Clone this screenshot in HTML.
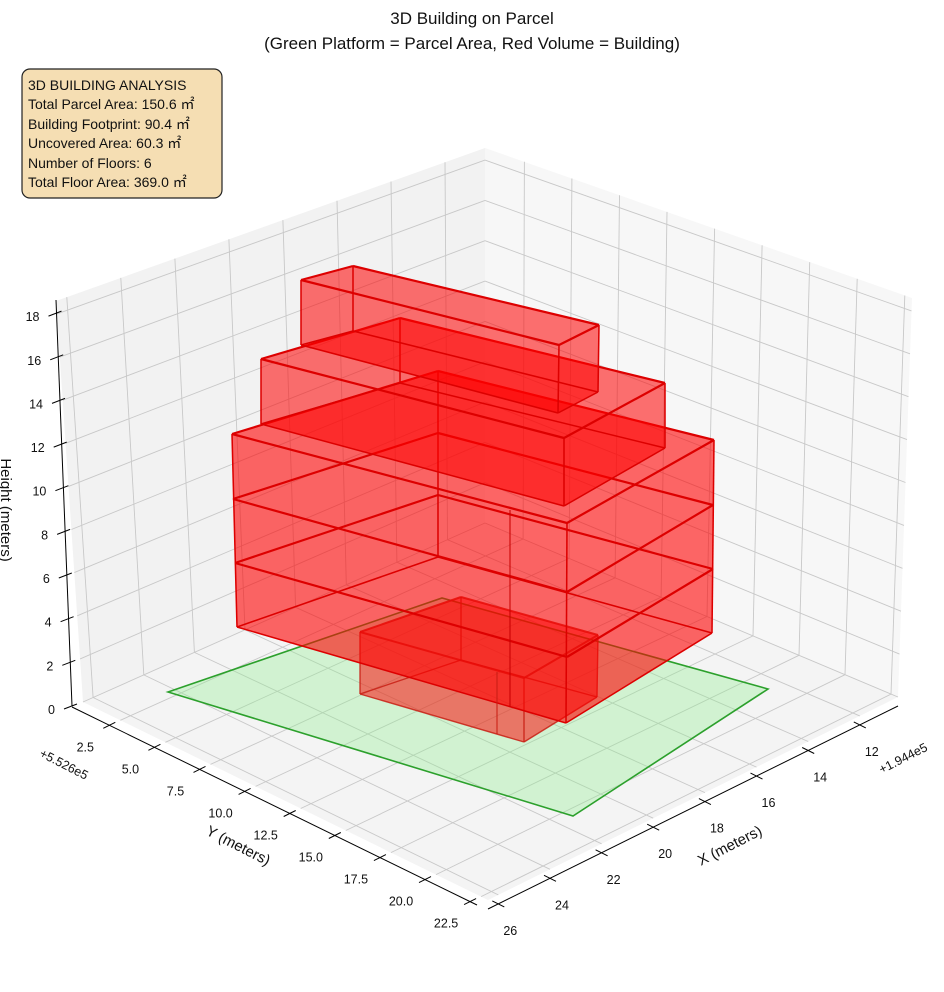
<!DOCTYPE html>
<html><head><meta charset="utf-8"><style>
html,body{margin:0;padding:0;background:#fff;}
svg{display:block;font-family:"Liberation Sans","Noto Sans CJK JP",sans-serif;}
</style></head><body>
<svg id="s" width="944" height="992" viewBox="0 0 944 992" xmlns="http://www.w3.org/2000/svg">
<rect width="944" height="992" fill="#fff"/>
<g id="bg"></g>
<g id="bld"></g>
<g id="ax"></g>
<text x="472" y="24" font-size="17" text-anchor="middle" fill="#111">3D Building on Parcel</text>
<text x="472" y="49" font-size="17" text-anchor="middle" fill="#111">(Green Platform = Parcel Area, Red Volume = Building)</text>
<rect x="22" y="69" width="200" height="129" rx="8" ry="8" fill="#f5deb3" stroke="#222" stroke-width="1.2"/>
<g font-size="14" fill="#111">
<text x="28" y="90">3D BUILDING ANALYSIS</text>
<text x="28" y="109">Total Parcel Area: 150.6 ㎡</text>
<text x="28" y="129">Building Footprint: 90.4 ㎡</text>
<text x="28" y="148">Uncovered Area: 60.3 ㎡</text>
<text x="28" y="168">Number of Floors: 6</text>
<text x="28" y="187">Total Floor Area: 369.0 ㎡</text>
</g>
<text transform="translate(236,850) rotate(27)" font-size="15" text-anchor="middle" fill="#111">Y (meters)</text>
<text transform="translate(732,850) rotate(-27)" font-size="15" text-anchor="middle" fill="#111">X (meters)</text>
<text transform="translate(1,510) rotate(90)" font-size="15" text-anchor="middle" fill="#111">Height (meters)</text>
<text transform="translate(62,768) rotate(27)" font-size="12.5" text-anchor="middle" fill="#111">+5.526e5</text>
<text transform="translate(905,762) rotate(-27)" font-size="12.5" text-anchor="middle" fill="#111">+1.944e5</text>
</svg>
<script>
(function(){
var B=[485,523],L=[83,702],R=[898,697],F=[488,900];
var VB=[0,-375],VL=[-27,-401],VR=[14,-399],VF=[-5,-425];
function bil(q,s,t){return [q[0][0]*(1-s)*(1-t)+q[1][0]*s*(1-t)+q[2][0]*(1-s)*t+q[3][0]*s*t,
 q[0][1]*(1-s)*(1-t)+q[1][1]*s*(1-t)+q[2][1]*(1-s)*t+q[3][1]*s*t];}
function P(s,t,z){var a=bil([B,L,R,F],s,t),v=bil([VB,VL,VR,VF],s,t);return [a[0]+z*v[0],a[1]+z*v[1]];}
function pts(a){return a.map(function(p){return p[0].toFixed(1)+","+p[1].toFixed(1)}).join(" ");}
function line(a,b,c,w){return '<line x1="'+a[0].toFixed(1)+'" y1="'+a[1].toFixed(1)+'" x2="'+b[0].toFixed(1)+'" y2="'+b[1].toFixed(1)+'" stroke="'+c+'" stroke-width="'+w+'"/>';}
var h='';
h+='<polygon points="'+pts([P(0,0,0),P(1,0,0),P(1,0,1),P(0,0,1)])+'" fill="#f2f2f2"/>';
h+='<polygon points="'+pts([P(0,0,0),P(0,1,0),P(0,1,1),P(0,0,1)])+'" fill="#f7f7f7"/>';
h+='<polygon points="'+pts([P(0,0,0),P(1,0,0),P(1,1,0),P(0,1,0)])+'" fill="#f4f4f4"/>';
var gc="#c8c8c8",gw=0.9;
var xs=[],ys=[],zs=[];
for(var x=12;x<=26;x+=2)xs.push([x,(x-10.52)/15.88]);
for(var y=2.5;y<=22.6;y+=2.5)ys.push([y,(y-0.43)/22.45]);
for(var z=0;z<=18;z+=2)zs.push([z,z/18.6]);
xs.forEach(function(a){h+=line(P(a[1],0,0),P(a[1],1,0),gc,gw);h+=line(P(a[1],0,0),P(a[1],0,1),gc,gw);});
ys.forEach(function(a){h+=line(P(0,a[1],0),P(1,a[1],0),gc,gw);h+=line(P(0,a[1],0),P(0,a[1],1),gc,gw);});
zs.forEach(function(a){h+=line(P(0,0,a[1]),P(1,0,a[1]),gc,gw);h+=line(P(0,0,a[1]),P(0,1,a[1]),gc,gw);});
h+='<polygon points="168,692 442,598 768,689 573,816" fill="rgba(144,238,144,0.35)" stroke="#2ca02c" stroke-width="1.6"/>';
document.getElementById('bg').innerHTML=h;
var b='';
function box(bot,top,ec,ew,fa){
 var f='rgba(255,0,0,'+fa+')';
 var faces=[[bot[0],bot[1],bot[2],bot[3]],[top[0],top[1],top[2],top[3]]];
 for(var i=0;i<4;i++){var j=(i+1)%4;faces.push([bot[i],bot[j],top[j],top[i]]);}
 faces.forEach(function(fc){b+='<polygon points="'+pts(fc)+'" fill="'+f+'" stroke="none"/>';});
 for(var i=0;i<4;i++){var j=(i+1)%4;b+=line(bot[i],bot[j],ec,ew*0.7);b+=line(top[i],top[j],ec,ew);b+=line(bot[i],top[i],ec,ew*0.7);}
}
function outline(q,ec,ew){for(var i=0;i<4;i++){var j=(i+1)%4;b+=line(q[i],q[j],ec,ew);}}
box([[360,694],[461,660],[597,697],[524,742]],[[360,632],[461,597],[598,635],[524,678]],"rgba(200,30,20,0.85)",2,0.3);
var C=[[[237,627],[438,557],[712,633],[566,723]],[[235,563],[438,495],[713,569],[567,657]],[[233,499],[438,433],[713,505],[567,592]],[[232,434],[438,371],[714,440],[567,523]]];
box(C[0],C[3],"#dd0000",2.2,0.36);
outline(C[1],"#dd0000",2.2);outline(C[2],"#dd0000",2.2);
box([[261,424],[400,383],[665,448],[564,506]],[[261,359],[400,318],[665,383],[564,438]],"#dd0000",2.2,0.33);
box([[301,345],[353,331],[598,392],[558,413]],[[301,280],[353,266],[599,325],[559,345]],"#dd0000",2.2,0.33);
b+=line([497,672],[497,734],"rgba(200,30,20,0.8)",1.3);
b+=line([510,510],[510,707],"rgba(200,0,0,0.8)",1.3);
document.getElementById('bld').innerHTML=b;
var a='',k2="#000";
var oY=[-11,5],oX=[0,9];
function PY(t){var p=P(1,t,0);return [p[0]+oY[0],p[1]+oY[1]];}
function PX(s){var p=P(s,1,0);return [p[0]+oX[0],p[1]+oX[1]];}
a+=line(PY(0),PY(1),k2,1);
a+=line(PX(0),PX(1),k2,1);
a+=line([72,706],[56,300],k2,1);
ys.forEach(function(q){var p=PY(q[1]);a+=line([p[0]+6,p[1]-3],[p[0]-6,p[1]+3],k2,1);
 a+='<text x="'+(p[0]-24).toFixed(1)+'" y="'+(p[1]+26).toFixed(1)+'" font-size="12.5" text-anchor="middle" fill="#111">'+q[0].toFixed(1)+'</text>';});
xs.forEach(function(q){var p=PX(q[1]);a+=line([p[0]-6,p[1]-3],[p[0]+6,p[1]+3],k2,1);
 a+='<text x="'+(p[0]+12).toFixed(1)+'" y="'+(p[1]+31).toFixed(1)+'" font-size="12.5" text-anchor="middle" fill="#111">'+q[0]+'</text>';});
zs.forEach(function(q){var f=q[1];var p=[72-16*f,706-406*f];a+=line([p[0]-8,p[1]+3],[p[0]+5,p[1]-2],k2,1);
 a+='<text x="'+(p[0]-17).toFixed(1)+'" y="'+(p[1]+8).toFixed(1)+'" font-size="12.5" text-anchor="end" fill="#111">'+q[0]+'</text>';});
document.getElementById('ax').innerHTML=a;
})();
</script>
</body></html>
